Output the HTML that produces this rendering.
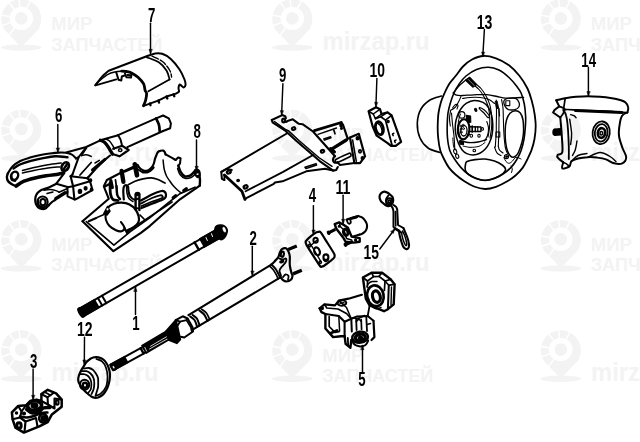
<!DOCTYPE html>
<html><head><meta charset="utf-8"><title>diagram</title>
<style>
html,body{margin:0;padding:0;background:#fff;}
body{width:640px;height:442px;overflow:hidden;font-family:"Liberation Sans",sans-serif;}
svg{display:block;position:absolute;left:0;top:0;}
svg .d path,svg .d ellipse,svg .d circle{stroke-linecap:round;stroke-linejoin:round;}
svg .d text{font-family:"Liberation Sans",sans-serif;font-weight:bold;fill:#000;stroke:none;}
svg .wm text{font-family:"Liberation Sans",sans-serif;font-weight:bold;fill:#f3f3f3;}
</style></head><body>
<svg width="640" height="442" viewBox="0 0 640 442">
<defs><filter id="sb" x="-2%" y="-2%" width="104%" height="104%"><feGaussianBlur stdDeviation="0.38"/></filter></defs>
<rect width="640" height="442" fill="#fff"/>
<g class="wm">
<g transform="translate(21.3 19.2)"><path d="M-17.3 10 A20 20 0 1 1 17.3 10 L1.5 26.5 Q0 28 -1.5 26.5 Z" fill="#f3f3f3"/><path d="M0 -0.8L-2.5 -23M0 -0.8L-14 -19M0 -0.8L-23 -4.5M0 -0.8L-22 7.5M0 -0.8L-13.5 18M0 -0.8L10.5 -21" stroke="#fff" stroke-width="1.5" fill="none"/><circle cx="0" cy="-0.8" r="11.7" fill="#fff"/><circle cx="0" cy="-0.8" r="6.3" fill="#f3f3f3"/><ellipse cx="0" cy="28.4" rx="20.3" ry="3.2" fill="#f3f3f3"/></g>
<text x="51.3" y="30.4" font-size="18" textLength="41" lengthAdjust="spacingAndGlyphs">МИР</text>
<text x="51.3" y="50.6" font-size="18" textLength="111" lengthAdjust="spacingAndGlyphs">ЗАПЧАСТЕЙ</text>
<g transform="translate(292.3 19.2)"><path d="M-17.3 10 A20 20 0 1 1 17.3 10 L1.5 26.5 Q0 28 -1.5 26.5 Z" fill="#f3f3f3"/><path d="M0 -0.8L-2.5 -23M0 -0.8L-14 -19M0 -0.8L-23 -4.5M0 -0.8L-22 7.5M0 -0.8L-13.5 18M0 -0.8L10.5 -21" stroke="#fff" stroke-width="1.5" fill="none"/><circle cx="0" cy="-0.8" r="11.7" fill="#fff"/><circle cx="0" cy="-0.8" r="6.3" fill="#f3f3f3"/><ellipse cx="0" cy="28.4" rx="20.3" ry="3.2" fill="#f3f3f3"/></g>
<text x="322.6" y="50" font-size="25" textLength="107" lengthAdjust="spacingAndGlyphs">mirzap.ru</text>
<g transform="translate(560.8 19.2)"><path d="M-17.3 10 A20 20 0 1 1 17.3 10 L1.5 26.5 Q0 28 -1.5 26.5 Z" fill="#f3f3f3"/><path d="M0 -0.8L-2.5 -23M0 -0.8L-14 -19M0 -0.8L-23 -4.5M0 -0.8L-22 7.5M0 -0.8L-13.5 18M0 -0.8L10.5 -21" stroke="#fff" stroke-width="1.5" fill="none"/><circle cx="0" cy="-0.8" r="11.7" fill="#fff"/><circle cx="0" cy="-0.8" r="6.3" fill="#f3f3f3"/><ellipse cx="0" cy="28.4" rx="20.3" ry="3.2" fill="#f3f3f3"/></g>
<text x="590.8" y="30.4" font-size="18" textLength="41" lengthAdjust="spacingAndGlyphs">МИР</text>
<text x="590.8" y="50.6" font-size="18" textLength="111" lengthAdjust="spacingAndGlyphs">ЗАПЧАСТЕЙ</text>
<g transform="translate(21.3 129.8)"><path d="M-17.3 10 A20 20 0 1 1 17.3 10 L1.5 26.5 Q0 28 -1.5 26.5 Z" fill="#f3f3f3"/><path d="M0 -0.8L-2.5 -23M0 -0.8L-14 -19M0 -0.8L-23 -4.5M0 -0.8L-22 7.5M0 -0.8L-13.5 18M0 -0.8L10.5 -21" stroke="#fff" stroke-width="1.5" fill="none"/><circle cx="0" cy="-0.8" r="11.7" fill="#fff"/><circle cx="0" cy="-0.8" r="6.3" fill="#f3f3f3"/><ellipse cx="0" cy="28.4" rx="20.3" ry="3.2" fill="#f3f3f3"/></g>
<text x="51.6" y="160.6" font-size="25" textLength="107" lengthAdjust="spacingAndGlyphs">mirzap.ru</text>
<g transform="translate(292.3 129.8)"><path d="M-17.3 10 A20 20 0 1 1 17.3 10 L1.5 26.5 Q0 28 -1.5 26.5 Z" fill="#f3f3f3"/><path d="M0 -0.8L-2.5 -23M0 -0.8L-14 -19M0 -0.8L-23 -4.5M0 -0.8L-22 7.5M0 -0.8L-13.5 18M0 -0.8L10.5 -21" stroke="#fff" stroke-width="1.5" fill="none"/><circle cx="0" cy="-0.8" r="11.7" fill="#fff"/><circle cx="0" cy="-0.8" r="6.3" fill="#f3f3f3"/><ellipse cx="0" cy="28.4" rx="20.3" ry="3.2" fill="#f3f3f3"/></g>
<text x="322.3" y="141" font-size="18" textLength="41" lengthAdjust="spacingAndGlyphs">МИР</text>
<text x="322.3" y="161.2" font-size="18" textLength="111" lengthAdjust="spacingAndGlyphs">ЗАПЧАСТЕЙ</text>
<g transform="translate(560.8 129.8)"><path d="M-17.3 10 A20 20 0 1 1 17.3 10 L1.5 26.5 Q0 28 -1.5 26.5 Z" fill="#f3f3f3"/><path d="M0 -0.8L-2.5 -23M0 -0.8L-14 -19M0 -0.8L-23 -4.5M0 -0.8L-22 7.5M0 -0.8L-13.5 18M0 -0.8L10.5 -21" stroke="#fff" stroke-width="1.5" fill="none"/><circle cx="0" cy="-0.8" r="11.7" fill="#fff"/><circle cx="0" cy="-0.8" r="6.3" fill="#f3f3f3"/><ellipse cx="0" cy="28.4" rx="20.3" ry="3.2" fill="#f3f3f3"/></g>
<text x="591.1" y="160.6" font-size="25" textLength="107" lengthAdjust="spacingAndGlyphs">mirzap.ru</text>
<g transform="translate(21.3 240)"><path d="M-17.3 10 A20 20 0 1 1 17.3 10 L1.5 26.5 Q0 28 -1.5 26.5 Z" fill="#f3f3f3"/><path d="M0 -0.8L-2.5 -23M0 -0.8L-14 -19M0 -0.8L-23 -4.5M0 -0.8L-22 7.5M0 -0.8L-13.5 18M0 -0.8L10.5 -21" stroke="#fff" stroke-width="1.5" fill="none"/><circle cx="0" cy="-0.8" r="11.7" fill="#fff"/><circle cx="0" cy="-0.8" r="6.3" fill="#f3f3f3"/><ellipse cx="0" cy="28.4" rx="20.3" ry="3.2" fill="#f3f3f3"/></g>
<text x="51.3" y="251.2" font-size="18" textLength="41" lengthAdjust="spacingAndGlyphs">МИР</text>
<text x="51.3" y="271.4" font-size="18" textLength="111" lengthAdjust="spacingAndGlyphs">ЗАПЧАСТЕЙ</text>
<g transform="translate(292.3 240)"><path d="M-17.3 10 A20 20 0 1 1 17.3 10 L1.5 26.5 Q0 28 -1.5 26.5 Z" fill="#f3f3f3"/><path d="M0 -0.8L-2.5 -23M0 -0.8L-14 -19M0 -0.8L-23 -4.5M0 -0.8L-22 7.5M0 -0.8L-13.5 18M0 -0.8L10.5 -21" stroke="#fff" stroke-width="1.5" fill="none"/><circle cx="0" cy="-0.8" r="11.7" fill="#fff"/><circle cx="0" cy="-0.8" r="6.3" fill="#f3f3f3"/><ellipse cx="0" cy="28.4" rx="20.3" ry="3.2" fill="#f3f3f3"/></g>
<text x="322.6" y="270.8" font-size="25" textLength="107" lengthAdjust="spacingAndGlyphs">mirzap.ru</text>
<g transform="translate(560.8 240)"><path d="M-17.3 10 A20 20 0 1 1 17.3 10 L1.5 26.5 Q0 28 -1.5 26.5 Z" fill="#f3f3f3"/><path d="M0 -0.8L-2.5 -23M0 -0.8L-14 -19M0 -0.8L-23 -4.5M0 -0.8L-22 7.5M0 -0.8L-13.5 18M0 -0.8L10.5 -21" stroke="#fff" stroke-width="1.5" fill="none"/><circle cx="0" cy="-0.8" r="11.7" fill="#fff"/><circle cx="0" cy="-0.8" r="6.3" fill="#f3f3f3"/><ellipse cx="0" cy="28.4" rx="20.3" ry="3.2" fill="#f3f3f3"/></g>
<text x="590.8" y="251.2" font-size="18" textLength="41" lengthAdjust="spacingAndGlyphs">МИР</text>
<text x="590.8" y="271.4" font-size="18" textLength="111" lengthAdjust="spacingAndGlyphs">ЗАПЧАСТЕЙ</text>
<g transform="translate(21.3 350.4)"><path d="M-17.3 10 A20 20 0 1 1 17.3 10 L1.5 26.5 Q0 28 -1.5 26.5 Z" fill="#f3f3f3"/><path d="M0 -0.8L-2.5 -23M0 -0.8L-14 -19M0 -0.8L-23 -4.5M0 -0.8L-22 7.5M0 -0.8L-13.5 18M0 -0.8L10.5 -21" stroke="#fff" stroke-width="1.5" fill="none"/><circle cx="0" cy="-0.8" r="11.7" fill="#fff"/><circle cx="0" cy="-0.8" r="6.3" fill="#f3f3f3"/><ellipse cx="0" cy="28.4" rx="20.3" ry="3.2" fill="#f3f3f3"/></g>
<text x="51.6" y="381.2" font-size="25" textLength="107" lengthAdjust="spacingAndGlyphs">mirzap.ru</text>
<g transform="translate(292.3 350.4)"><path d="M-17.3 10 A20 20 0 1 1 17.3 10 L1.5 26.5 Q0 28 -1.5 26.5 Z" fill="#f3f3f3"/><path d="M0 -0.8L-2.5 -23M0 -0.8L-14 -19M0 -0.8L-23 -4.5M0 -0.8L-22 7.5M0 -0.8L-13.5 18M0 -0.8L10.5 -21" stroke="#fff" stroke-width="1.5" fill="none"/><circle cx="0" cy="-0.8" r="11.7" fill="#fff"/><circle cx="0" cy="-0.8" r="6.3" fill="#f3f3f3"/><ellipse cx="0" cy="28.4" rx="20.3" ry="3.2" fill="#f3f3f3"/></g>
<text x="322.3" y="361.6" font-size="18" textLength="41" lengthAdjust="spacingAndGlyphs">МИР</text>
<text x="322.3" y="381.8" font-size="18" textLength="111" lengthAdjust="spacingAndGlyphs">ЗАПЧАСТЕЙ</text>
<g transform="translate(560.8 350.4)"><path d="M-17.3 10 A20 20 0 1 1 17.3 10 L1.5 26.5 Q0 28 -1.5 26.5 Z" fill="#f3f3f3"/><path d="M0 -0.8L-2.5 -23M0 -0.8L-14 -19M0 -0.8L-23 -4.5M0 -0.8L-22 7.5M0 -0.8L-13.5 18M0 -0.8L10.5 -21" stroke="#fff" stroke-width="1.5" fill="none"/><circle cx="0" cy="-0.8" r="11.7" fill="#fff"/><circle cx="0" cy="-0.8" r="6.3" fill="#f3f3f3"/><ellipse cx="0" cy="28.4" rx="20.3" ry="3.2" fill="#f3f3f3"/></g>
<text x="591.1" y="381.2" font-size="25" textLength="107" lengthAdjust="spacingAndGlyphs">mirzap.ru</text>
</g>
<g class="d" fill="none" stroke="#000" stroke-width="1.9" filter="url(#sb)">
<text x="148" y="21.7" font-size="20" textLength="7.35" lengthAdjust="spacingAndGlyphs">7</text>
<path d="M150.5 23.2L150.5 53.5" stroke-width="1.45"/>
<path d="M150.5 53.5L149 49.3L152 49.3Z" fill="#000" stroke-width="0.5"/>
<text x="55" y="122" font-size="20" textLength="7.35" lengthAdjust="spacingAndGlyphs">6</text>
<path d="M57.8 124.4L57.8 152.3" stroke-width="1.45"/>
<path d="M57.8 152.3L56.3 148.1L59.3 148.1Z" fill="#000" stroke-width="0.5"/>
<text x="193.5" y="138.3" font-size="20" textLength="7.35" lengthAdjust="spacingAndGlyphs">8</text>
<path d="M196.5 140L196.5 170.5" stroke-width="1.45"/>
<path d="M196.5 170.5L195 166.3L198 166.3Z" fill="#000" stroke-width="0.5"/>
<text x="279.1" y="81.7" font-size="20" textLength="7.35" lengthAdjust="spacingAndGlyphs">9</text>
<path d="M282.9 83.8L281.6 114.8" stroke-width="1.45"/>
<path d="M281.6 114.8L280.3 110.5L283.3 110.7Z" fill="#000" stroke-width="0.5"/>
<text x="369.6" y="77.3" font-size="20" textLength="15.45" lengthAdjust="spacingAndGlyphs">10</text>
<path d="M376.9 78.5L375.9 106.5" stroke-width="1.45"/>
<path d="M375.9 106.5L374.6 102.2L377.5 102.4Z" fill="#000" stroke-width="0.5"/>
<text x="476.7" y="28.5" font-size="20" textLength="15.65" lengthAdjust="spacingAndGlyphs">13</text>
<path d="M484.4 29.5L482.8 56.3" stroke-width="1.45"/>
<path d="M482.8 56.3L481.6 52L484.5 52.2Z" fill="#000" stroke-width="0.5"/>
<text x="581.3" y="67" font-size="20" textLength="14.75" lengthAdjust="spacingAndGlyphs">14</text>
<path d="M588.4 67.5L588.4 95.8" stroke-width="1.45"/>
<path d="M588.4 95.8L586.9 91.6L589.9 91.6Z" fill="#000" stroke-width="0.5"/>
<text x="308.7" y="202.3" font-size="20" textLength="7.35" lengthAdjust="spacingAndGlyphs">4</text>
<path d="M313.4 205.6L313.4 234.2" stroke-width="1.45"/>
<path d="M313.4 234.2L311.9 230L314.9 230Z" fill="#000" stroke-width="0.5"/>
<text x="335.4" y="194.2" font-size="20" textLength="14.95" lengthAdjust="spacingAndGlyphs">11</text>
<path d="M343.1 195.2L343.1 223.5" stroke-width="1.45"/>
<path d="M343.1 223.5L341.6 219.3L344.6 219.3Z" fill="#000" stroke-width="0.5"/>
<text x="363.5" y="258.8" font-size="20" textLength="15.45" lengthAdjust="spacingAndGlyphs">15</text>
<path d="M379.8 249L394.6 229.2" stroke-width="1.45"/>
<path d="M394.6 229.2L393.3 233.5L390.9 231.7Z" fill="#000" stroke-width="0.5"/>
<text x="249.4" y="244.5" font-size="20" textLength="7.35" lengthAdjust="spacingAndGlyphs">2</text>
<path d="M252.3 246.3L252.3 275.2" stroke-width="1.45"/>
<path d="M252.3 275.2L250.8 271L253.8 271Z" fill="#000" stroke-width="0.5"/>
<text x="132.3" y="330.4" font-size="20" textLength="7.35" lengthAdjust="spacingAndGlyphs">1</text>
<path d="M135.5 314.4L135.5 287.2" stroke-width="1.45"/>
<path d="M135.5 287.2L137 291.4L134 291.4Z" fill="#000" stroke-width="0.5"/>
<text x="77.1" y="335.9" font-size="20" textLength="15.55" lengthAdjust="spacingAndGlyphs">12</text>
<path d="M84.5 337.2L84.3 364.2" stroke-width="1.45"/>
<path d="M84.3 364.2L82.8 360L85.8 360Z" fill="#000" stroke-width="0.5"/>
<text x="29.9" y="367.9" font-size="20" textLength="7.35" lengthAdjust="spacingAndGlyphs">3</text>
<path d="M33.1 369L33.1 399.5" stroke-width="1.45"/>
<path d="M33.1 399.5L31.6 395.3L34.6 395.3Z" fill="#000" stroke-width="0.5"/>
<text x="358.3" y="386.3" font-size="20" textLength="7.35" lengthAdjust="spacingAndGlyphs">5</text>
<path d="M362.5 371.9L362.5 345.5" stroke-width="1.45"/>
<path d="M362.5 345.5L364 349.7L361 349.7Z" fill="#000" stroke-width="0.5"/>
<path d="M95.3 85.2C96 84.3 98 81.5 99.5 79.8C101 78.1 102.5 76.3 104 74.8C105.5 73.3 107.9 71.4 108.7 70.7L146.7 56.3C148.1 55.8 152.7 53.8 155.3 53.4C157.9 53 159.6 52.9 162.2 53.8C164.8 54.7 167.9 56.3 170.8 58.9C173.7 61.5 177.1 65.8 179.4 69.2C181.7 72.6 183.5 76.9 184.5 79.5C185.5 82.1 185.7 83.4 185.6 84.7C185.5 86 184.4 87.3 183.7 87.5C183 87.7 182 86.1 181.3 85.6C180.6 85.1 180.1 84.2 179.6 84.6C179.1 85 178.6 86.9 178.5 88.1C178.4 89.2 179.4 90.6 179 91.5C178.6 92.4 176.5 93.2 176 93.6L167.3 96.2L158.8 100.4L145 105.4L143.5 105.8" stroke-width="2"/>
<path d="M121.7 71.2C122.5 71.2 124.9 71.2 126.5 71.5C128.1 71.8 129.6 72 131.5 72.9C133.4 73.9 136 75.4 138 77.2C140 79 142.3 81.5 143.5 83.7C144.7 85.9 144.6 88.7 145.1 90.3C145.6 91.9 146.5 91.9 146.6 93.5C146.7 95.1 146.2 98 145.7 100C145.2 102 143.9 104.8 143.5 105.8" stroke-width="2.8"/>
<path d="M95.3 85.2C96.2 84.2 98.9 81.3 101 79.5C103.1 77.7 105.7 75.5 108 74.3C110.3 73 112.7 72.5 115 72C117.3 71.5 120.6 71.3 121.7 71.2" stroke-width="1.5"/>
<path d="M95.5 85.4L116.3 79.4" stroke-width="1.8"/>
<path d="M148.4 91.3L169.5 79.5" stroke-width="1.8"/>
<path d="M146.7 57.2C148.7 58.1 155.5 60.1 158.8 62.3C162.1 64.5 164.7 67.6 166.5 70.5C168.3 73.4 169.1 78 169.6 79.5" stroke-width="1.8"/>
<path d="M152 56.2C153.8 57.1 159.5 59.1 162.5 61.5C165.5 63.9 168.3 67.9 169.8 70.5C171.3 73.1 171.3 75.9 171.6 77" stroke-width="1.4" stroke-dasharray="7 2"/>
<path d="M116.3 72.5L118.5 79.8L121.3 80.6L121.8 76.5L124.5 75.5" stroke-width="2"/>
<path d="M125 73.5L126.5 77.3L131 77.6L131.5 74.5" stroke-width="2"/>
<path d="M127.5 75L130 75.3" stroke-width="2.2"/>
<path d="M150 103.5L150.5 105.2" stroke-width="2.4"/>
<path d="M158.5 100.5L159 102.5" stroke-width="2.4"/>
<path d="M166.5 96.5L167.3 98.5" stroke-width="2.4"/>
<path d="M173.5 94.3L174.3 96.2" stroke-width="2.4"/>
<path d="M118.1 135.2L156.1 118.4" stroke-width="2"/>
<path d="M127.3 147.2L163.1 131" stroke-width="2"/>
<path d="M156.1 118.4L163.1 115.5L168.8 118.4L170.9 123.3L170.2 128.2L163.1 131" stroke-width="2"/>
<path d="M156.1 118.4C156.6 119.5 158.3 122.5 158.9 124.7C159.5 126.9 159.6 130.4 159.7 131.5" stroke-width="2.7"/>
<path d="M100.3 140.3L118.1 135.2" stroke-width="2.1"/>
<path d="M100.3 140.3C101 140.6 103.1 141.1 104.5 142.3C105.9 143.5 107.5 145.9 108.5 147.4C109.5 148.9 110 150.1 110.7 151.2C111.4 152.3 112.2 153.7 112.5 154.2" stroke-width="3.3"/>
<path d="M105.5 138.8C106.2 139.2 108.2 139.8 109.5 141C110.8 142.2 112.2 144.7 113 146C113.8 147.3 114.1 148.5 114.3 149" stroke-width="1.5"/>
<path d="M118.1 135.2C118.5 135.9 119.9 138 120.5 139.5C121.1 141 121.4 143.1 121.7 144.2C122 145.2 122.2 145.5 122.3 145.8" stroke-width="2"/>
<path d="M113.2 148.8L122.3 145.8L128.7 150L119.5 156.3L112.5 154" stroke-width="2.2"/>
<ellipse cx="120.2" cy="150.2" rx="1.7" ry="1.4" stroke-width="1.5"/>
<path d="M100.3 140.3L86.2 147L66.2 152.5" stroke-width="2"/>
<path d="M110 155.5L104 160.5L96 168.5L88 177.5" stroke-width="2.1"/>
<path d="M86.2 147.3L78.8 156.9" stroke-width="1.8"/>
<path d="M86.5 148L81.5 155.6" stroke-width="1.5"/>
<path d="M81.5 155.6C82.2 155.5 84.4 154.7 86 154.8C87.6 154.9 90.3 156.1 91.2 156.4" stroke-width="1.5"/>
<path d="M91.2 162.5L80 175" stroke-width="1.8"/>
<path d="M92.5 170L105 159.4" stroke-width="3"/>
<path d="M95 163L99.4 160.4" stroke-width="1.5"/>
<path d="M7.8 173.5C8.6 172.3 10.4 168.6 12.5 166.5C14.6 164.4 17.4 162.5 20.3 161C23.2 159.5 26.6 158.6 30 157.6C33.4 156.6 37.3 155.7 40.6 155C43.9 154.3 47 153.9 50 153.5C53 153.1 56.2 152.7 58.9 152.6C61.6 152.5 63.8 152.5 66 152.8C68.2 153.1 70.3 153.7 72 154.6C73.7 155.5 75.3 157.8 76 158.5" stroke-width="2.1"/>
<path d="M7.8 173.5C7.7 174.1 6.9 175.8 6.9 177C6.9 178.2 7.2 179.8 8 181C8.8 182.2 10.2 183.1 11.5 184C12.8 184.9 15.2 185.8 16 186.2" stroke-width="2.4"/>
<path d="M16.2 186C17.5 185.2 21 182.5 24 181.2C27 179.9 30.3 179.1 34 178.2C37.7 177.3 42 176.5 46 175.8C50 175.1 55.2 174.6 58 174.2C60.8 173.8 61.8 173.5 62.5 173.4" stroke-width="3.6"/>
<path d="M13.5 168.5C14.6 167.8 17.2 165.7 20 164.5C22.8 163.3 26.3 162.2 30 161.2C33.7 160.2 37.8 159.2 42 158.4C46.2 157.6 50.8 156.5 55 156.3C59.2 156.1 65.4 157.1 67.5 157.3" stroke-width="2.4"/>
<path d="M22.5 170.6C24.4 170.1 29.8 168.6 34 167.6C38.2 166.6 43.5 165.6 48 164.8C52.5 164 59 163.3 61.2 163" stroke-width="1.5"/>
<path d="M22.5 173C24.4 172.6 29.8 171.2 34 170.4C38.2 169.6 43.7 168.6 48 168C52.3 167.4 58 167.1 60 166.9" stroke-width="1.5"/>
<ellipse cx="14.6" cy="175.8" rx="3.4" ry="4.3" stroke-width="2.4" transform="rotate(25 14.6 175.8)"/>
<path d="M11.2 176C11.3 176.6 11.4 178.8 12 179.5C12.6 180.2 14.5 180.3 15 180.5" stroke-width="2.7"/>
<ellipse cx="65.2" cy="166.6" rx="3.3" ry="4.6" stroke-width="2.7" transform="rotate(30 65.2 166.6)"/>
<path d="M63.5 169.5L67.5 163.5" stroke-width="2.4"/>
<path d="M76 158.5L78.8 156.9L72.5 174.4" stroke-width="2"/>
<path d="M72.5 174.4L70.6 176.2" stroke-width="2"/>
<path d="M62.5 173.4L64.5 172.8L56.3 183.7" stroke-width="2.1"/>
<path d="M70.6 176.2L87.5 178.2L90 181.3L92.5 190L75.6 199.4L74.4 199.4L73.1 186.3L90 181.3" stroke-width="2.1"/>
<path d="M70.6 176.2L73.1 186.3" stroke-width="2.1"/>
<path d="M73.1 186.3L67.5 187.3L67.5 196.3L74.4 199.4" stroke-width="2"/>
<path d="M87.5 178.2L88 177.5" stroke-width="2.4"/>
<ellipse cx="80" cy="191.4" rx="1.4" ry="1.7" stroke-width="1.8" fill="#000"/>
<ellipse cx="85.6" cy="188.3" rx="1.2" ry="1.5" stroke-width="1.8" fill="#000"/>
<ellipse cx="90.3" cy="180.3" rx="1.2" ry="1.2" stroke-width="1.8" fill="#000"/>
<ellipse cx="91.5" cy="189.5" rx="0.9" ry="1.2" stroke-width="1.8" fill="#000"/>
<path d="M56.3 183.7C55 184.3 51.3 186.4 48.8 187.5C46.3 188.6 43.2 189.1 41.3 190C39.4 190.9 38.5 191.8 37.5 193C36.5 194.2 35.8 195.4 35.5 197C35.2 198.6 35.2 201 35.5 202.5C35.8 204 36.4 205.1 37 206C37.6 206.9 38.1 207.7 39.4 208.2C40.7 208.7 43.4 209.3 45 208.8C46.6 208.3 48.2 205.8 48.8 205.2" stroke-width="2.2"/>
<path d="M48.8 205.2C49.3 204.7 51 202.9 52 202C53 201.1 53.5 201 55 200C56.5 199 58.9 197.3 61 196C63.1 194.7 66.4 192.7 67.5 192" stroke-width="2.2"/>
<path d="M56.3 183.7L67.5 187" stroke-width="2"/>
<path d="M44 190.2C45 190.1 48 189.4 50 189.5C52 189.6 54.5 190.2 56 190.6C57.5 191 58.5 191.9 59 192.2" stroke-width="1.5"/>
<path d="M59 192.2L67.5 188.5" stroke-width="1.5"/>
<path d="M55.5 198.5L65 192.3" stroke-width="2.7"/>
<path d="M47 193.5L53 192" stroke-width="1.4"/>
<ellipse cx="42.6" cy="201.9" rx="5" ry="5.4" stroke-width="2.2"/>
<ellipse cx="42.9" cy="202.2" rx="2.6" ry="3.1" stroke-width="2"/>
<path d="M37.8 200C37.9 200.8 37.8 203.8 38.5 205C39.2 206.2 41.4 206.9 42 207.3" stroke-width="2.4"/>
<path d="M82.5 221.2L113.4 251.2L140.9 232.8L150 225.8L180 199.3L199.8 185.6" stroke-width="2.2"/>
<path d="M86.3 221.6L113.9 245.2L130 231.8L150 217.6L167.5 203.3L180 193.6L195 187.2" stroke-width="1.7"/>
<path d="M199.8 185.6L200 180L199.4 175L197.5 170.6" stroke-width="2.4"/>
<path d="M197.5 170.6C197 170.8 195.7 171.1 194.4 171.9C193.2 172.7 191.6 174.9 190 175.6C188.4 176.3 186.6 176.9 185 176.3C183.4 175.7 181.7 173.7 180.6 171.9C179.5 170.1 178.7 166.7 178.3 165.6" stroke-width="2.5"/>
<path d="M196 173.5C195.2 174.2 192.8 176.7 191 177.5C189.2 178.3 186.8 178.8 185 178.3C183.2 177.8 181.2 176.1 180 174.5C178.8 172.9 178 169.5 177.6 168.5" stroke-width="1.5"/>
<path d="M178.3 165.6L180 163.6L180.6 158.3L178.1 157.5L175.6 160" stroke-width="2"/>
<path d="M175.6 160L172.5 158.1L165.6 154.4" stroke-width="2.1"/>
<path d="M165.6 154.4C165.4 154 165 152.4 164.6 151.8C164.2 151.2 163.8 150.8 163.1 150.6C162.4 150.4 161.3 150.6 160.5 150.8C159.7 151 158.8 151.2 158.1 151.9C157.4 152.6 157 153.8 156.5 155C156 156.2 155.4 157.5 155 158.8C154.6 160.1 154.4 161.8 154 163C153.6 164.2 153.2 165.3 152.5 166.3C151.8 167.3 150.8 168.3 150 169C149.2 169.7 148.4 170.3 147.5 170.6C146.6 170.9 145.3 171 144.3 170.8C143.3 170.6 142.2 170 141.3 169.4C140.4 168.8 139.6 167.9 139 167.2C138.4 166.5 137.8 165.4 137.5 165" stroke-width="2.2"/>
<path d="M153.5 167.5C153 168 151.6 169.7 150.5 170.5C149.4 171.3 148.2 172 147 172.3C145.8 172.6 143.7 172.2 143 172.2" stroke-width="2.4"/>
<path d="M137.5 165L123.8 171.3L106.9 180L103.8 186.3L108.8 198.8L82.5 221.2" stroke-width="2.1"/>
<path d="M163.1 160C163.2 160.8 163.4 163.3 163.6 165C163.8 166.7 163.9 168.2 164.4 170C164.9 171.8 165.6 174.1 166.5 176C167.4 177.9 168.8 179.6 170 181.3C171.2 183 172.2 184.6 173.5 186C174.8 187.4 176.2 188.8 177.5 190C178.8 191.2 180.7 192.6 181.3 193.1" stroke-width="1.5"/>
<path d="M194.5 170.5C194.8 169.4 196.2 169.1 197 169.2C197.8 169.3 199 170 199.5 171C200 172 200.2 173.9 200 175C199.8 176.1 198.8 177.4 198 177.5C197.2 177.6 196.1 176.7 195.5 175.5C194.9 174.3 194.2 171.6 194.5 170.5Z" stroke-width="1.5" fill="#000"/>
<ellipse cx="197.6" cy="174.2" rx="1.2" ry="0.9" stroke-width="0.2" fill="#fff"/>
<path d="M183.8 190.6L186.3 188.8" stroke-width="3.3"/>
<path d="M173.2 197.8L175.7 195.8" stroke-width="3.3"/>
<path d="M123.8 199.5C123.7 198.1 123.3 193.2 123.3 191C123.3 188.8 123.5 187.5 124 186.5C124.5 185.5 125.3 185 126 185C126.7 185 127.6 185.5 128 186.5C128.4 187.5 128.2 189.4 128.5 191C128.8 192.6 129.1 194.6 130 196C130.9 197.4 132.6 199.1 134 199.5C135.4 199.9 137.8 198.7 138.5 198.5" stroke-width="2.2"/>
<path d="M126.5 186C126.6 187.2 126.6 190.9 127 193C127.4 195.1 128 197.1 129 198.5C130 199.9 132.3 201 133 201.5" stroke-width="1.5"/>
<path d="M128.5 184.5C129.6 184 132.6 182.2 135 181.3C137.4 180.4 140.3 179.5 143 178.9C145.7 178.3 148.8 177.7 151.3 177.8C153.8 177.9 155.7 178.6 158 179.5C160.3 180.4 163.8 182.5 165 183.1" stroke-width="1.7"/>
<path d="M135.6 209.5L135.6 194.5" stroke-width="2.4"/>
<path d="M139.4 210L139.4 194.5" stroke-width="2.4"/>
<ellipse cx="137.5" cy="194" rx="1.9" ry="1.3" stroke-width="1.8" fill="#000"/>
<path d="M135.6 208L139.4 208.6" stroke-width="1.8"/>
<path d="M141 200.5C142.8 199.5 148.8 196.1 152 194.5C155.2 192.9 158.4 191.7 160.5 191.2C162.6 190.7 163.4 190.9 164.3 191.5C165.2 192.1 165.9 193.4 166 194.5C166.1 195.6 165.9 197 165 198C164.1 199 163 199.4 160.5 200.5C158 201.6 153.2 203.2 150 204.5C146.8 205.8 142.9 207.4 141.5 208" stroke-width="2.2"/>
<path d="M141 203.5C142.8 202.6 148.8 199.4 152 198C155.2 196.6 158.2 195.6 160 195.3C161.8 195 162.2 195.7 162.5 196.2C162.8 196.7 163.4 197.3 161.5 198.3C159.6 199.3 154.3 200.7 151 202C147.7 203.3 143.1 205.3 141.5 206" stroke-width="1.8"/>
<path d="M105.5 213.5C105.9 212.5 106.6 209.1 108 207.5C109.4 205.9 111.8 204.6 114 203.8C116.2 203 118.9 202.5 121.5 202.6C124.1 202.7 127.2 203.3 129.5 204.5C131.8 205.7 134 207.5 135.5 209.5C137 211.5 138.2 214.3 138.7 216.5C139.2 218.7 139.1 220.8 138.3 222.5C137.5 224.2 135.9 225.7 134 227C132.1 228.3 128.2 229.9 127 230.5" stroke-width="2.2"/>
<path d="M105.5 213.5C105.6 214.6 105.3 217.9 106 220C106.7 222.1 107.8 224.3 109.5 226C111.2 227.7 114 229.4 116 230.3C118 231.2 120.1 231.6 121.5 231.2C122.9 230.8 124.6 229.5 124.5 228C124.4 226.5 121.6 223 121 222" stroke-width="2.1"/>
<path d="M124.5 228L127 233L130 229.5" stroke-width="2"/>
<path d="M140 215L145 220L172 202" stroke-width="1.7"/>
<path d="M130 229.5L145 220" stroke-width="1.5"/>
<path d="M103.8 213.5L107.5 206.5L110 211L107 215L103.8 213.5" stroke-width="1.5" fill="#000"/>
<ellipse cx="107.6" cy="209.3" rx="1.1" ry="1.3" stroke-width="0.2" fill="#fff"/>
<path d="M88.8 221.2L96.2 218.1" stroke-width="2.2"/>
<path d="M97 217.5L104 214.5" stroke-width="1.4"/>
<path d="M121.6 170.8L123.4 181.8" stroke-width="4.3"/>
<path d="M134.8 164.3L137 175.3" stroke-width="4.7"/>
<path d="M110.8 180.6L112.3 187.5" stroke-width="3.3"/>
<path d="M115.5 180L116.8 189.5" stroke-width="1.8"/>
<path d="M110 183C110.1 184.8 110 191.2 110.5 194C111 196.8 111.8 198.4 113 199.5C114.2 200.6 117.2 200.3 118 200.5" stroke-width="2.8"/>
<path d="M116.5 186C116.6 187.5 116.7 192.8 117.3 195C117.9 197.2 119.5 198.3 120 199" stroke-width="2.4"/>
<path d="M124.5 172L134 168" stroke-width="1.5"/>
<path d="M138 169.5L142 172" stroke-width="1.8"/>
<path d="M104.8 186.5L108.5 184.5" stroke-width="2.4"/>
<path d="M271.8 120L282.2 115.1L285.2 116.2L285.9 118.2" stroke-width="2.1"/>
<ellipse cx="283.7" cy="120.5" rx="1.5" ry="1.8" stroke-width="2.2"/>
<path d="M286 122L287.5 121.1L292.8 119.3L298.8 123.8L302.5 124.2L313 131.5L335 156.2" stroke-width="2.1"/>
<path d="M271.8 120L272.5 122.3L285.2 130.5L287.5 132.8L296.5 141L320 161.3L333.1 170.6L336.2 170L337.8 167" stroke-width="2.1"/>
<path d="M274.4 121.5L286 129.8L288.3 130.6L299.5 141L318.8 157.5L332 166.3" stroke-width="1.5"/>
<ellipse cx="293.6" cy="128.6" rx="1.7" ry="1.3" stroke-width="2.1" transform="rotate(-20 293.6 128.6)"/>
<ellipse cx="322.5" cy="151.3" rx="1.7" ry="1.3" stroke-width="2.1" transform="rotate(-20 322.5 151.3)"/>
<path d="M335 156.2C334.7 156.5 333.6 157.5 333.3 158.3C333 159.1 332.9 160.3 333.2 161C333.4 161.7 334.1 162.4 334.8 162.6C335.5 162.8 337.1 162.4 337.5 162.4" stroke-width="2.2"/>
<path d="M336.3 159.2C337.7 158.5 347.9 153.8 349.3 153.3C350.8 152.8 350.6 153.9 350.8 154.2C351 154.4 351 155.5 350.9 155.8C350.8 156.1 351.2 156.1 349.8 156.8C348.4 157.5 338.6 162.1 337.2 162.6C335.8 163.1 335.8 162.2 335.6 162C335.4 161.8 335.1 160.8 335.2 160.5C335.3 160.2 334.9 159.9 336.3 159.2Z" stroke-width="1.7"/>
<path d="M337.5 162.4L340 165L354.4 163.1" stroke-width="2"/>
<path d="M286.8 133.5L221.3 171.9L221.9 178.8L224.4 180" stroke-width="2"/>
<path d="M221.3 171.9L226.9 168.8L231.9 170" stroke-width="1.8"/>
<path d="M224.4 175L241.9 191.3L245 199.4" stroke-width="2.8"/>
<path d="M224.4 175L224.4 180" stroke-width="1.8"/>
<path d="M245 199.4L246.3 198.1L273.8 183.8L275 182.5L282.5 181.3L306.3 171.3L325 168.8L333.1 170.6" stroke-width="2"/>
<path d="M245.6 191.3L283.1 171.9L313.1 155" stroke-width="1.8"/>
<ellipse cx="228.8" cy="172" rx="2" ry="1.5" stroke-width="2.2" transform="rotate(-25 228.8 172)"/>
<ellipse cx="238.1" cy="180.6" rx="1.1" ry="0.9" stroke-width="1.7"/>
<ellipse cx="245.6" cy="186.9" rx="2" ry="1.5" stroke-width="2.2" transform="rotate(-25 245.6 186.9)"/>
<path d="M305 167.2L316 163.6L316.6 165L306 168.6L305 167.2" stroke-width="1.5"/>
<path d="M314.4 130.6L341.2 122.5" stroke-width="2.7"/>
<path d="M341.2 122.5L343.1 125L347.5 138.1" stroke-width="2.2"/>
<path d="M318 134.3L336.5 128" stroke-width="1.4"/>
<ellipse cx="341.2" cy="125.3" rx="1.1" ry="1.3" stroke-width="1.8" fill="#000"/>
<ellipse cx="341.5" cy="128.3" rx="0.8" ry="0.9" stroke-width="1.5" fill="#000"/>
<path d="M323.8 138.8L330.6 136.7L331 137.8L324.5 140.2L323.8 138.8" stroke-width="1.4"/>
<path d="M333.8 130L335 133.8" stroke-width="1.7"/>
<path d="M331.3 149.4L346.3 140" stroke-width="3.4"/>
<path d="M330.5 148.5L334.5 152" stroke-width="3"/>
<path d="M350 137.5L358.8 133.8L365 156.3L360 163.1L354.4 163.1L350 137.5" stroke-width="2.2"/>
<path d="M352.6 140L356.3 161.3" stroke-width="1.5"/>
<path d="M350 137.5L346.3 140" stroke-width="2"/>
<ellipse cx="357.5" cy="138.2" rx="1.1" ry="1.3" stroke-width="1.8" fill="#000"/>
<ellipse cx="360" cy="151.3" rx="1.2" ry="1.5" stroke-width="1.8"/>
<ellipse cx="362.5" cy="158.2" rx="1.1" ry="1.2" stroke-width="1.8" fill="#000"/>
<path d="M368.6 111.3L376 107.2L380.1 109.2L381.5 114L387.6 112.4L391.6 115.4L401.1 141.8L395.7 145.9L391 145.9L387.6 143.2L376.7 135.7L372.6 126.2Z" stroke-width="2.2"/>
<path d="M368.6 111.3L373.3 114L380.1 109.2" stroke-width="1.5"/>
<path d="M373.3 114L375.4 118.7L381.5 114" stroke-width="1.5"/>
<path d="M375.4 118.7L380.8 116.7L387.6 112.4" stroke-width="1.5"/>
<path d="M380.8 116.7L385.5 120.1L391.6 115.4" stroke-width="1.7"/>
<path d="M385.5 120.1L392.2 145.9" stroke-width="1.8"/>
<ellipse cx="379.4" cy="128.2" rx="3.8" ry="6.6" stroke-width="2.8" transform="rotate(-14 379.4 128.2)"/>
<path d="M377.2 123C377.7 123.4 379.4 124.2 380.2 125.5C381 126.8 381.8 129.1 382 130.5C382.2 131.9 381.6 133.4 381.5 134" stroke-width="1.4"/>
<ellipse cx="388.2" cy="121.6" rx="0.9" ry="1" stroke-width="1.5"/>
<path d="M393.8 133.3C393.6 133.5 392.6 133.8 392.5 134.2C392.4 134.6 393.1 135.4 393.2 135.6" stroke-width="1.5"/>
<path d="M396 140C395.8 140.2 394.6 140.6 394.5 141C394.4 141.4 395.2 142.3 395.3 142.6" stroke-width="1.5"/>
<path d="M441.5 96C439.6 96.7 433.4 97.8 430 100C426.6 102.2 423.1 105.2 421 109C418.9 112.8 417.5 118.2 417.3 123C417.1 127.8 418.2 133.8 420 138C421.8 142.2 424.7 145.6 428 148C431.3 150.4 438 151.8 440 152.5" stroke-width="1.6"/>
<path d="M483.3 56C487.3 55.8 491.7 56.8 496 58.3C500.3 59.8 505.1 62.4 509 65.3C512.9 68.2 516.3 71.9 519.4 75.8C522.5 79.7 525.4 84.3 527.5 88.5C529.6 92.7 530.6 96.8 531.8 101C533 105.2 534 109.8 534.6 114C535.2 118.2 535.7 121.8 535.7 126C535.7 130.2 535.2 134.9 534.5 139C533.8 143.1 532.6 146.9 531.4 150.4C530.1 153.9 528.4 157.1 527 160C525.6 162.9 524.7 165 522.8 167.6C520.9 170.2 518.1 173.2 515.5 175.5C512.9 177.8 510.6 179.4 507.3 181.3C504.1 183.2 499.7 185.5 496 186.8C492.3 188.1 488.7 189.1 485 189C481.3 188.9 477.4 187.8 474 186.5C470.6 185.2 467.5 183.3 464.4 181.3C461.3 179.3 458.1 176.8 455.5 174.5C452.9 172.2 450.8 170.2 448.9 167.6C447 165 445.4 161.9 444 159C442.6 156.1 441.3 153.9 440.3 150.4C439.3 146.9 438.6 142.1 438.2 138C437.8 133.9 437.6 130.2 437.7 126C437.8 121.8 437.9 117 438.5 113C439.1 109 440 105.3 441 102C442 98.7 443.2 96.1 444.6 93C446 89.9 447.6 86.4 449.5 83.5C451.4 80.6 453.6 78.6 455.8 75.8C458.1 73 460.3 69.2 463 66.5C465.7 63.8 468.6 61.2 472 59.5C475.4 57.8 479.3 56.2 483.3 56Z" stroke-width="1.8"/>
<path d="M488.4 67.2C492.1 67.3 495.6 68.3 499 70C502.4 71.7 506.1 74.8 509 77.5C511.9 80.2 514.5 83.4 516.5 86C518.5 88.6 519.8 90 521.1 93C522.4 96 523.5 100.2 524.3 104C525 107.8 525.4 112.3 525.6 116C525.8 119.7 525.7 122.2 525.4 126C525.1 129.8 524.7 134.9 524 139C523.3 143.1 522.4 146.9 521.1 150.4C519.9 153.9 518.2 157.1 516.5 160C514.8 162.9 513 165.3 510.8 167.6C508.6 169.9 505.7 172.2 503 174C500.3 175.8 497.5 177.4 494.5 178.5C491.5 179.6 488.1 180.5 485 180.5C481.9 180.5 478.8 179.6 476 178.5C473.2 177.4 470.5 175.8 468 174C465.5 172.2 463.2 170.1 461 167.6C458.8 165.1 456.4 161.9 454.5 159C452.6 156.1 451 153.9 449.8 150.4C448.6 146.9 447.9 142.1 447.5 138C447.1 133.9 447.1 130.2 447.2 126C447.3 121.8 447.4 116.9 448 113C448.6 109.1 449.5 105.8 450.5 102.5C451.5 99.2 452.5 96.2 454 93C455.5 89.8 457.5 86.3 459.5 83.5C461.5 80.7 463.2 78.3 466 76C468.8 73.7 472.8 71 476.5 69.5C480.2 68 484.6 67.1 488.4 67.2Z" stroke-width="1.6"/>
<path d="M453.2 93C453.8 93.4 454.9 94.8 456.5 95.2C458.1 95.6 459.8 95.6 462.7 95.5C465.6 95.4 470 94.9 474 94.8C478 94.7 482.9 94.4 486.7 94.7C490.5 95 493.9 95.9 497 96.5C500.1 97.1 502.8 97.8 505.6 98.1C508.4 98.3 511 98.1 514 98C517 97.9 522.1 97.4 523.7 97.3" stroke-width="1.3"/>
<path d="M453.2 93C454.1 91.9 456.7 88.4 458.5 86.5C460.3 84.6 462.2 83 464 81.5C465.8 80 468.6 78.2 469.5 77.5" stroke-width="1.2"/>
<path d="M461 96.4C460.7 97.2 459.9 99.3 459 101C458.1 102.7 456.9 105.3 455.8 106.7C454.7 108.1 453.4 108.7 452.5 109.3C451.6 109.9 450.9 110 450.6 110.2" stroke-width="1.1"/>
<path d="M450.6 110.5C450.4 111.8 449.6 115.4 449.5 118C449.4 120.6 450.2 124.7 450.3 126" stroke-width="1.1"/>
<path d="M462.5 98.5C463.8 98.3 467.1 97.7 470 97.5C472.9 97.3 476.8 97.2 480 97.5C483.2 97.8 486.6 98.5 489 99.5C491.4 100.5 493.6 102.8 494.5 103.5" stroke-width="1.1"/>
<path d="M451.5 113C451.7 114.8 452.1 120.2 452.5 124C452.9 127.8 453.6 131.8 454 136C454.4 140.2 454.7 147.2 454.8 149.5" stroke-width="1.1"/>
<path d="M452.5 108C453 107.4 454.6 104.9 455.5 104.5C456.4 104.1 457.8 104.8 458 105.5C458.2 106.2 457.2 108.4 457 109" stroke-width="1.1"/>
<path d="M474.3 100.4C477.1 100.3 480.6 101.2 483 102.4C485.4 103.6 487.1 105.3 488.5 107.5C489.9 109.7 490.9 112.6 491.6 115.5C492.3 118.4 492.7 121.8 492.8 125C492.9 128.2 492.6 132 492 135C491.4 138 490.4 140.7 489.3 143C488.2 145.3 486.9 147.3 485.3 149C483.7 150.7 481.9 152.2 479.8 153.2C477.8 154.2 475.2 154.9 473 155C470.8 155.1 468.6 154.4 466.8 153.6C465 152.8 463.6 151.8 462.2 150C460.8 148.2 459.4 145.8 458.3 143C457.2 140.2 456.1 136.4 455.6 133.2C455.1 130 455.1 126.9 455.4 124C455.7 121.1 456.4 118.5 457.3 116C458.2 113.5 459.3 111.1 460.8 109C462.3 106.9 464.2 104.6 466.5 103.2C468.8 101.8 471.6 100.5 474.3 100.4Z" stroke-width="1.5"/>
<path d="M460.5 114C460.1 115.3 458.6 119.2 458.3 122C458 124.8 458.4 128.2 458.8 131C459.2 133.8 460.6 137.7 461 139" stroke-width="1"/>
<ellipse cx="463.6" cy="129.3" rx="5.8" ry="10" stroke-width="2.1" transform="rotate(4 463.6 129.3)"/>
<ellipse cx="463.9" cy="130.8" rx="3.1" ry="5.2" stroke-width="1.3" transform="rotate(4 463.9 130.8)"/>
<ellipse cx="461.8" cy="114.9" rx="3.1" ry="3.2" stroke-width="1.2"/>
<path d="M466.3 115.4L470.6 116L470.8 122.3L468 122.5L466.5 119.5Z" stroke-width="1.1" fill="#000"/>
<ellipse cx="461" cy="126" rx="0.9" ry="1" stroke-width="0.9"/>
<ellipse cx="463.2" cy="125.2" rx="0.9" ry="1" stroke-width="0.9"/>
<ellipse cx="461" cy="129" rx="0.9" ry="1" stroke-width="0.9"/>
<ellipse cx="463.6" cy="128.6" rx="0.9" ry="1" stroke-width="0.9"/>
<ellipse cx="461.2" cy="132.2" rx="0.9" ry="1" stroke-width="0.9"/>
<path d="M469.3 126.7L480.8 127" stroke-width="1.4"/>
<path d="M469.3 131.5L480.8 131.5" stroke-width="1.4"/>
<path d="M472.2 126.2L472.2 132" stroke-width="1.7"/>
<path d="M475.3 126.7L475.3 131.5" stroke-width="1.4"/>
<path d="M477.8 126.7L477.8 131.5" stroke-width="1.2"/>
<path d="M480.8 127L480.8 131.5" stroke-width="1.1"/>
<ellipse cx="482.3" cy="128.9" rx="1.2" ry="1.3" stroke-width="1.1"/>
<ellipse cx="471.3" cy="135.7" rx="1.3" ry="1.5" stroke-width="1.1"/>
<ellipse cx="479" cy="135.7" rx="1.2" ry="1.4" stroke-width="1.1"/>
<ellipse cx="468.5" cy="134.5" rx="1" ry="1.1" stroke-width="1"/>
<ellipse cx="476" cy="110.5" rx="0.9" ry="0.9" stroke-width="1.1" fill="#000"/>
<path d="M459.5 141L463.5 141.2L463.5 144.5L460 144.3Z" stroke-width="1.1" fill="#000"/>
<path d="M460 140.5C461.3 140.8 465 142.2 468 142.5C471 142.8 474.9 142.5 478 142C481.1 141.5 485.1 139.9 486.5 139.5" stroke-width="1.4"/>
<path d="M463 146C464.2 146.2 467.3 147.2 470 147.3C472.7 147.4 476.5 147.1 479 146.3C481.5 145.5 484 143.1 485 142.5" stroke-width="1"/>
<ellipse cx="474.3" cy="150.5" rx="1.3" ry="1.3" stroke-width="1.1"/>
<path d="M486.8 121.5C487.1 122.6 488.4 125.7 488.5 128C488.6 130.3 488.2 133.3 487.5 135.5C486.8 137.7 485 140.1 484.5 141" stroke-width="1.1"/>
<path d="M479.8 107.6C480.6 107.7 482.6 108.7 484 109.8C485.4 110.9 487.1 112.8 488 114C488.9 115.2 489.6 116.7 489.5 117.2C489.4 117.7 488.5 118 487.5 117.2C486.5 116.4 484.8 113.9 483.5 112.5C482.2 111.1 480.1 109.8 479.5 109C478.9 108.2 479.1 107.5 479.8 107.6Z" stroke-width="1.2"/>
<ellipse cx="475.5" cy="109.3" rx="1" ry="1" stroke-width="1.1"/>
<path d="M474.5 85.5C475.2 86.2 477.5 87.8 479 89.5C480.5 91.2 482.1 93.4 483.3 95.5C484.6 97.6 485.6 99.8 486.5 102C487.4 104.2 488.1 105.7 488.6 108.5C489.2 111.3 489.7 115.5 489.8 118.8C489.9 122 489.8 125 489.5 128C489.2 131 488.2 135.5 488 137" stroke-width="1.1"/>
<path d="M476.3 84.3C477.1 85 479.5 86.8 481 88.5C482.5 90.2 484 92.4 485.2 94.5C486.4 96.6 487.5 98.8 488.4 101C489.3 103.2 489.9 104.5 490.5 107.5C491.1 110.5 491.6 115.3 491.8 118.8C492 122.3 491.8 125.3 491.5 128.5C491.2 131.7 490.2 136.4 490 138" stroke-width="1.1"/>
<path d="M465.4 80.2L469.8 77.3L476.6 84.5L472.8 87.2Z" stroke-width="1.1" fill="#000"/>
<path d="M468.3 79.5L474.2 85.6" stroke-width="0.5" stroke="#fff"/>
<path d="M495.3 101.6L497 100.8L498.8 108.4L497 108.6Z" stroke-width="0.9" fill="#000"/>
<path d="M499 108.5L499.6 116" stroke-width="1.1"/>
<path d="M496.2 100C496.2 102 496.5 108 496.5 112C496.5 116 496.4 120.5 496.3 124C496.2 127.5 496.4 129.4 496.2 133.2C496 137 495.4 144.7 495.3 147" stroke-width="1.1"/>
<path d="M498.8 109C498.8 110.8 499 116 499 120C499 124 498.9 128.7 498.8 133C498.7 137.3 498.4 143.8 498.3 146" stroke-width="1.1"/>
<path d="M496 132L499.8 132L499.8 137L496 137Z" stroke-width="1.1"/>
<path d="M494.5 147C494.8 147.7 495.5 149.9 496 151C496.5 152.1 496.7 152.8 497.5 153.5C498.3 154.2 500.4 155.2 501 155.5" stroke-width="1.1"/>
<path d="M498.3 146C498.5 146.7 498.7 148.8 499.5 150C500.3 151.2 502.4 152.5 503 153" stroke-width="1.1"/>
<path d="M501.5 99.5C501.8 100.9 502.7 104.6 503 108C503.3 111.4 503.2 115.8 503.4 120C503.5 124.2 503.7 129.5 503.9 133.2C504.1 136.9 504.3 139.4 504.6 142C504.9 144.6 505.1 146.8 505.6 148.7C506.1 150.6 507.2 152.7 507.5 153.5" stroke-width="1.1"/>
<path d="M504.2 100.3C504.9 99 507.5 98.5 509.5 98.2C511.5 97.9 514.4 97.9 516 98.6C517.6 99.3 518.5 101.1 519 102.5C519.5 103.9 519.5 105.8 518.8 107C518.1 108.2 516.7 109.2 515 109.6C513.3 110 510.2 110.1 508.5 109.6C506.8 109 505.7 107.8 505 106.3C504.3 104.8 503.4 101.6 504.2 100.3Z" stroke-width="1.3"/>
<path d="M505.8 100.8L509.8 100.8L509.8 105.6L505.8 105.6Z" stroke-width="1.1"/>
<path d="M515.5 110.8C517.2 110.8 519 111.5 520.3 113C521.5 114.5 522.5 117.2 523 120C523.5 122.8 523.6 127 523.6 130C523.6 133.1 523.3 135.5 522.8 138.3C522.3 141.1 521.4 144.4 520.5 147C519.6 149.6 518.8 152.1 517.7 153.8C516.6 155.5 515.1 156.6 514 157C512.9 157.4 511.9 157.4 510.8 156.4C509.7 155.4 508.4 153.4 507.5 151C506.6 148.6 506 145.5 505.6 142C505.2 138.5 505.1 133.7 505.2 130C505.3 126.3 505.7 122.8 506.5 120C507.3 117.2 508.5 114.8 510 113.3C511.5 111.8 513.8 110.8 515.5 110.8Z" stroke-width="1.5"/>
<path d="M467 161.5C468.6 160.7 472 160 475 159.6C478 159.2 481.8 158.8 485 159C488.2 159.2 491.6 160 494.5 161C497.4 162 500.3 163.6 502.2 165C504.1 166.4 505.4 168 505.6 169.3C505.8 170.6 504.6 171.8 503.5 173C502.4 174.2 500.7 175.2 498.8 176.2C496.9 177.2 494.3 178.3 492 179C489.7 179.7 487.3 180.3 485 180.3C482.7 180.3 480.3 179.7 478 179C475.7 178.3 473.1 177.2 471.3 176.2C469.5 175.2 468 174.2 467 173C466 171.8 465.4 170.7 465.2 169.3C464.9 167.9 465.2 165.8 465.5 164.5C465.8 163.2 465.4 162.3 467 161.5Z" stroke-width="1.6"/>
<ellipse cx="506.5" cy="156.6" rx="2" ry="2" stroke-width="1.2"/>
<ellipse cx="506.5" cy="156.6" rx="0.8" ry="0.8" stroke-width="0.9" fill="#000"/>
<path d="M503.9 157.5C504.2 158.2 505.1 160.5 506 161.5C506.9 162.5 508.1 163.4 509.2 163.3C510.3 163.2 511.4 162 512.5 161C513.6 160 514.6 157.6 516 157.3C517.4 157 520.2 158.7 521 159" stroke-width="1"/>
<path d="M511 166C511.2 166.5 512.2 167.9 512.3 169C512.4 170.1 511.6 171.9 511.5 172.5" stroke-width="1"/>
<ellipse cx="455.2" cy="151.5" rx="1.5" ry="2.4" stroke-width="1.1" transform="rotate(-15 455.2 151.5)"/>
<ellipse cx="457.2" cy="156.2" rx="1.5" ry="2.2" stroke-width="1.1" transform="rotate(-20 457.2 156.2)"/>
<path d="M452.8 138C452.9 139.3 453.1 144 453.5 146C453.9 148 454.8 149.3 455 150" stroke-width="1"/>
<path d="M556.2 100.3C557.7 100 562 98.9 565.3 98.3C568.6 97.7 572.3 97.1 576 96.8C579.7 96.5 583.7 96.2 587.7 96.2C591.7 96.2 596 96.5 600 96.8C604 97.1 608.7 97.7 612 98.2C615.3 98.7 617.8 99.3 620 100C622.2 100.7 623.9 101.1 625.3 102.3C626.7 103.5 627.9 105.7 628.2 107.4C628.6 109.1 627.5 111.7 627.4 112.5" stroke-width="2"/>
<path d="M627.4 112.5C626.5 113 623.6 113.7 622.3 115.5C621 117.3 620.3 120.2 619.8 123.6C619.2 127 618.5 131.8 619 135.9C619.5 140 621.3 144.4 622.5 148C623.7 151.6 626.2 154.6 626.2 157.2C626.2 159.8 624.3 162.3 622.3 163.3C620.3 164.3 616.9 164 614.2 163.3C611.5 162.7 608.9 160.4 606 159.4C603.1 158.4 600 158 597 157.6C594 157.2 590.9 157 587.7 157.2C584.5 157.3 580.7 157.8 578 158.5C575.3 159.2 572.8 160 571.4 161.3C570 162.6 570.9 165.2 569.4 166.4C567.9 167.6 563.3 169.1 562.3 168.4C561.3 167.7 563.1 163.3 563.3 162.3" stroke-width="2"/>
<path d="M563.3 162.3C562.4 161.6 559.2 159.4 558.2 158.2C557.2 157 556.8 156 557.5 155C558.2 154 561.6 155.3 562.3 152.1C563 148.9 562.1 141.7 561.8 135.9C561.5 130.1 560.5 120.6 560.3 117.5" stroke-width="2"/>
<path d="M560.3 117.5L553.1 112.5L554.5 110L559.2 106.4L556.2 100.3" stroke-width="2"/>
<path d="M559.2 106.4C559.9 106.7 562.5 107.5 563.5 108C564.5 108.5 565 109.3 565.3 109.6" stroke-width="1.7"/>
<path d="M565.2 98.3L563.4 110.1" stroke-width="1.7"/>
<path d="M560.3 117.5C560.8 116.8 562.7 114.3 563.5 113C564.3 111.7 562.5 110 565.3 109.6C568 109.1 574.2 110.1 580 110.3C585.8 110.5 594.2 110.5 600 110.8C605.8 111 610.4 111.5 615 111.8C619.6 112.1 625.3 112.4 627.4 112.5" stroke-width="1.7"/>
<path d="M575.5 110.6L622 112.6" stroke-width="3"/>
<path d="M563.4 110.1C563.9 111 565.4 112.5 566.1 115.5C566.9 118.5 567.5 123.1 567.9 128.2C568.3 133.3 568.6 141.2 568.8 146.3C568.9 151.4 568.8 156.9 568.8 159" stroke-width="1.8"/>
<path d="M569.7 119.2C570 121.6 571.5 129.5 571.6 133.7C571.8 137.9 570.8 142.7 570.6 144.5" stroke-width="1.4"/>
<path d="M570.6 114.6C571.2 114.8 573.1 115.1 574 115.6C574.9 116.1 575.8 117.4 576.1 117.8" stroke-width="1.4"/>
<path d="M577 140.9C576.7 142.4 576 147.6 575.2 150C574.5 152.4 573 154.5 572.5 155.4" stroke-width="1.4"/>
<path d="M587.7 157.2C589.8 156.4 596.3 152.6 600 152.5C603.7 152.4 607.3 155 610 156.5C612.7 158 615 160.7 616 161.5" stroke-width="1.4"/>
<path d="M571.4 161.3C572.5 160.3 575.4 156.8 578 155.5C580.6 154.2 585.5 153.8 587 153.5" stroke-width="1.4"/>
<path d="M563.3 162.3C563.8 162.6 565.5 163.1 566.5 163.8C567.5 164.5 568.9 166 569.4 166.4" stroke-width="1.5"/>
<ellipse cx="601.2" cy="132.8" rx="8.6" ry="11.4" stroke-width="1.8" transform="rotate(8 601.2 132.8)"/>
<ellipse cx="601.2" cy="132.8" rx="6.4" ry="8.8" stroke-width="1.8" transform="rotate(8 601.2 132.8)"/>
<ellipse cx="601.5" cy="133" rx="3.6" ry="4.8" stroke-width="2.7" transform="rotate(8 601.5 133)"/>
<ellipse cx="601.3" cy="133.2" rx="1.3" ry="1.8" stroke-width="1.5" transform="rotate(8 601.3 133.2)"/>
<path d="M554.5 129.5L560.5 129L560.8 134.5L555 135L554.5 129.5" stroke-width="2" fill="#000"/>
<ellipse cx="554.7" cy="132.2" rx="1.5" ry="2.6" stroke-width="1.8" fill="#000"/>
<path d="M82.4 316.8L218.6 238.4L214.4 231L78.2 309.4Z" stroke-width="2" fill="#fff"/>
<path d="M80.3 313.1L97.3 303.3" stroke-width="10.4" style="stroke-linecap:butt"/>
<path d="M201.5 243.3L216.5 234.7" stroke-width="10.8" style="stroke-linecap:butt"/>
<path d="M102.2 305.5L97.9 298" stroke-width="2"/>
<path d="M106.3 303.1L102 295.7" stroke-width="2"/>
<path d="M198.9 249.8L194.6 242.3" stroke-width="2.4"/>
<ellipse cx="81.6" cy="312.3" rx="2.6" ry="5" stroke-width="1.5" fill="#000" transform="rotate(-30 81.6 312.3)"/>
<path d="M214.9 229.5C215.1 227.9 215.6 226.7 216.7 226C217.8 225.3 219.8 225.1 221.2 225.2C222.6 225.3 224.3 225.9 225.3 226.8C226.3 227.7 227 229.1 227.2 230.4C227.3 231.7 226.8 233.2 226.2 234.5C225.6 235.8 224.7 237.2 223.9 238.1C223.1 238.9 222.1 239.6 221.2 239.6C220.3 239.6 219.4 239 218.5 238.3C217.6 237.6 216.1 237 215.5 235.5C214.9 234 214.7 231.1 214.9 229.5Z" stroke-width="1.8" fill="#000"/>
<ellipse cx="224.3" cy="229.6" rx="1.6" ry="3" stroke-width="0.2" fill="#fff" transform="rotate(-25 224.3 229.6)"/>
<path d="M206 237.5L207.3 240.5" stroke-width="1" stroke="#fff"/>
<path d="M211.5 233.8L212.5 236.5" stroke-width="1" stroke="#fff"/>
<path d="M113.1 370.3L145.9 352.3L142.9 346.9L110.1 364.9Z" stroke-width="2" fill="#fff"/>
<path d="M111.6 367.6L126.7 359.3" stroke-width="8.0" style="stroke-linecap:butt"/>
<ellipse cx="113.2" cy="367" rx="2" ry="3.5" stroke-width="1.5" fill="#000" transform="rotate(-28 113.2 367)"/>
<ellipse cx="113.6" cy="367.2" rx="0.9" ry="1.5" stroke-width="0.2" fill="#fff" transform="rotate(-28 113.6 367.2)"/>
<path d="M143.6 353.6L140.6 348.1" stroke-width="2.2"/>
<path d="M143.6 349.7L171.5 333.2" stroke-width="10.2" style="stroke-linecap:butt"/>
<path d="M150.5 346.2L171.5 333.8" stroke-width="0.8" stroke="#fff"/>
<path d="M149.5 349L171.5 336.6" stroke-width="0.8" stroke="#fff"/>
<path d="M144.8 347.4L146.6 351.1" stroke-width="0.8" stroke="#fff"/>
<path d="M166 331L175.7 320.1L177.3 326.1L179.5 336.4L180.5 339.5L176.8 343.4L168.5 340Z" stroke-width="1.5" fill="#000"/>
<path d="M175.7 320.1L182.7 316.3L187.6 318.5L192.5 327.2L193 331.5L184.3 337.5L179.5 336.4L177.3 326.1Z" stroke-width="2.1" fill="#fff"/>
<path d="M177.3 326.1L180 321.7L186.5 320.1L190.9 327.2L191.8 331.3" stroke-width="1.8"/>
<path d="M180 321.7L175.7 320.1" stroke-width="1.8"/>
<path d="M186.5 320.1L187.6 318.5" stroke-width="1.5"/>
<path d="M188.5 315.2L271.3 264.6" stroke-width="2.1"/>
<path d="M193.5 329.2L280 277.7" stroke-width="2.1"/>
<path d="M190.2 316.5C190.9 317.1 193.3 318.2 194.5 320C195.7 321.8 196.8 325.8 197.2 327" stroke-width="2"/>
<path d="M192.6 315C193.3 315.6 195.7 316.7 196.9 318.5C198.1 320.3 199.2 324.4 199.6 325.6" stroke-width="2"/>
<path d="M199.3 310.5C200.1 311.2 202.8 312.8 204.2 314.5C205.6 316.2 206.9 319.9 207.5 321" stroke-width="2"/>
<path d="M201.6 309.2C202.4 309.8 205 311.3 206.4 313C207.8 314.7 209.2 318.5 209.8 319.6" stroke-width="1.7"/>
<path d="M271.3 264.6C272 265.2 274.1 266.9 275.3 268.5C276.5 270.1 277.7 272.5 278.5 274C279.3 275.5 279.8 277.1 280 277.7" stroke-width="2"/>
<path d="M269.3 265.8C270 266.4 272.1 268.1 273.3 269.7C274.5 271.3 275.7 273.7 276.5 275.2C277.3 276.7 277.8 278.3 278 278.9" stroke-width="1.7"/>
<path d="M271.3 264.6C271.9 264.1 273.4 262.7 274.6 261.4C275.8 260.1 277.5 258.6 278.4 257C279.3 255.4 279.4 253.4 280 252.1C280.6 250.8 281.2 249.5 282.2 248.9C283.2 248.3 284.9 247.8 286 248.3C287.1 248.8 288.1 250.7 288.7 252.1C289.3 253.5 289.6 254.3 289.8 256.5C290 258.7 289.5 262.5 289.8 265.2C290.1 267.9 290.9 271 291.4 272.8C291.8 274.6 292.6 274.8 292.5 276C292.4 277.2 291.9 278.9 290.9 279.8C289.9 280.7 287.9 281.5 286.5 281.5C285.1 281.5 283.7 280.6 282.7 279.8C281.7 279 280.9 277.1 280.5 276.6" stroke-width="2.2"/>
<ellipse cx="282.3" cy="254.2" rx="1.5" ry="2.6" stroke-width="2.2" transform="rotate(10 282.3 254.2)"/>
<path d="M279 258.5C279.7 258.7 281.8 259.5 283 259.5C284.2 259.5 285.6 258 286 258.5C286.4 259 286.2 261.2 285.5 262.5C284.8 263.8 283 265.2 282 266.5C281 267.8 279.7 269 279.5 270.5C279.3 272 280.8 274.7 281 275.5" stroke-width="1.8"/>
<ellipse cx="281.8" cy="261.6" rx="2" ry="1" stroke-width="1.5" fill="#000" transform="rotate(-20 281.8 261.6)"/>
<path d="M283 277C283.4 276.6 284.6 274.7 285.5 274.5C286.4 274.3 288.1 275.2 288.5 276C288.9 276.8 288.1 278.9 288 279.5" stroke-width="1.8"/>
<path d="M288.2 249.5L296.8 245.9" stroke-width="3.2" style="stroke-linecap:butt"/>
<path d="M293 273.9L301.8 270.3" stroke-width="3.4" style="stroke-linecap:butt"/>
<path d="M306 241C306.7 240.1 309.6 237.3 311 236.2C312.4 235.1 315.3 233 316.3 232.4C317.3 231.8 318 231.8 318.6 231.8C319.2 231.8 319.5 230.9 320.7 232.4C321.9 233.9 325.7 240.2 327.5 243C329.3 245.8 333.1 251.8 334 253.5C334.9 255.2 334.6 255.4 334.6 256C334.6 256.6 334.7 257.1 334 257.9C333.3 258.7 330.4 261.1 329 262.2C327.6 263.3 324.7 265.4 323.7 266C322.7 266.6 322.3 266.6 321.8 266.6C321.3 266.6 321.1 267.5 320 266C318.9 264.5 315 258.3 313.2 255.6C311.4 252.9 307.8 247.1 306.8 245.4C305.8 243.7 305.9 243.6 305.8 243C305.7 242.4 305.3 241.9 306 241Z" stroke-width="2.2"/>
<path d="M306.8 245.4C307.1 245.6 307.9 246.6 308.6 246.6C309.3 246.6 309.7 246.2 311 245.2C312.3 244.2 315.6 241.4 316.5 240.6" stroke-width="1.4"/>
<path d="M309 241.5L321.5 262.5" stroke-width="1.4"/>
<ellipse cx="315.6" cy="240.3" rx="2.2" ry="2.5" stroke-width="2"/>
<ellipse cx="317" cy="251.3" rx="2.7" ry="4.1" stroke-width="2.2" transform="rotate(-22 317 251.3)"/>
<ellipse cx="325.9" cy="257.2" rx="2.5" ry="2.8" stroke-width="2.1"/>
<ellipse cx="309.7" cy="245.6" rx="1.2" ry="1.4" stroke-width="1.5"/>
<ellipse cx="320.2" cy="262.2" rx="1.1" ry="1.3" stroke-width="1.5"/>
<path d="M323.5 259.5C323.8 259.8 324.8 261.2 325.5 261.3C326.2 261.4 327.6 260.5 328 260.3" stroke-width="1.7"/>
<path d="M346.5 219.7L358.2 216" stroke-width="2.1"/>
<path d="M358.2 216C358.8 216.2 360.9 216.7 362 217.4C363.1 218.1 364.1 219.3 364.9 220.4C365.7 221.5 366.4 222.9 366.8 224C367.2 225.1 367.1 226.2 367 227.2C366.9 228.2 366.5 229.3 366 230.2C365.5 231.1 364.8 231.8 364.1 232.4C363.4 233 362.7 233.4 362 233.8C361.3 234.2 360.1 234.5 359.7 234.6" stroke-width="2.1"/>
<path d="M359.7 234.6L352.5 236.8" stroke-width="2.1"/>
<ellipse cx="348.9" cy="221.2" rx="1.7" ry="2.6" stroke-width="1.8" transform="rotate(-20 348.9 221.2)"/>
<path d="M350.5 218.6L356.5 217" stroke-width="3"/>
<path d="M334.7 224.1L339.1 222.4L343.5 224.7L347.9 227.8L351.6 236.6L359.7 238.1L359.7 241.8L353.8 242.6L345.7 241.8L343.5 238.1L336.2 228.5Z" stroke-width="2.4"/>
<path d="M339.1 222.4L340.5 226.8L344 230L346.5 238.5L351.6 240" stroke-width="1.5"/>
<ellipse cx="345.7" cy="232.3" rx="2.2" ry="3.2" stroke-width="3" transform="rotate(-15 345.7 232.3)"/>
<ellipse cx="339.2" cy="226.2" rx="0.8" ry="0.8" stroke-width="1.5" fill="#000"/>
<ellipse cx="355.6" cy="240" rx="0.9" ry="0.9" stroke-width="1.5" fill="#000"/>
<path d="M328.4 232.9L335.4 229.4" stroke-width="3.2" style="stroke-linecap:butt"/>
<path d="M345.2 244.8L353 241.3" stroke-width="3" style="stroke-linecap:butt"/>
<ellipse cx="328.6" cy="232.8" rx="1" ry="1.6" stroke-width="1.5" fill="#000" transform="rotate(-25 328.6 232.8)"/>
<ellipse cx="345.4" cy="244.7" rx="1" ry="1.5" stroke-width="1.5" fill="#000" transform="rotate(-25 345.4 244.7)"/>
<path d="M379.5 196.9C379.5 195.7 380 194.5 380.8 193.6C381.6 192.7 383.1 191.7 384.2 191.6C385.3 191.5 386.6 192.3 387.6 192.8C388.6 193.3 389.5 194.1 390.3 194.8C391.1 195.5 391.9 196 392.4 196.9C392.9 197.8 393.3 199.1 393.2 200.3C393.1 201.6 392.5 203.4 391.7 204.4C390.9 205.4 389.5 205.9 388.6 206.1C387.7 206.3 387.1 206.1 386.2 205.6C385.3 205.1 384.2 204.1 383.3 203.3C382.4 202.5 381.4 202.1 380.8 201C380.2 199.9 379.5 198.1 379.5 196.9Z" stroke-width="2.2"/>
<path d="M388.4 195.5C388 196.2 386.3 197.8 386 199.4C385.7 201 386.4 203.9 386.5 204.8" stroke-width="1.8"/>
<ellipse cx="389.4" cy="201.3" rx="2.9" ry="3.1" stroke-width="2"/>
<ellipse cx="389.6" cy="201.6" rx="1.2" ry="1.4" stroke-width="1.8"/>
<path d="M390.7 205.5C391 205.9 392.1 207 392.6 208C393.1 209 393.4 211 393.5 211.6L393.5 227L398.9 230.6" stroke-width="2"/>
<path d="M393.3 205C393.8 205.3 395.6 206.2 396.2 207C396.8 207.8 397 209.1 397.2 209.5L398 225L403.4 228" stroke-width="2"/>
<path d="M395.5 211.5L395.8 226" stroke-width="1.5"/>
<path d="M398.9 230.6C399 231.5 399.4 234.1 399.8 236C400.2 237.9 400.9 240.2 401.5 242C402.1 243.8 402.6 245.7 403.4 246.9C404.1 248.1 405.2 248.7 406 249C406.8 249.3 407.5 249.1 408 248.6C408.5 248.1 408.9 246.9 409 246C409.1 245.1 409.1 244.3 408.8 243C408.6 241.7 408.1 239.7 407.5 238C406.9 236.3 406.2 234.7 405.5 233C404.8 231.3 403.8 228.8 403.4 228" stroke-width="2.1"/>
<path d="M401.5 232.5C401.7 233.4 402.1 236.2 402.6 238C403.1 239.8 403.8 241.8 404.3 243C404.8 244.2 405.4 245.2 405.8 245.5C406.2 245.8 406.8 245.4 406.8 244.5C406.8 243.6 406.4 241.7 406 240C405.6 238.3 404.8 236 404.2 234.5C403.6 233 402.8 231.6 402.5 231" stroke-width="1.5"/>
<path d="M394.8 228.5L400.5 232" stroke-width="2.4"/>
<path d="M83.8 366.1C84.6 364.8 85.5 363.2 86.5 362C87.5 360.8 89 359.8 90.1 359C91.2 358.2 92.2 357.8 93.2 357.5C94.2 357.2 95.2 357 96.4 357.1C97.6 357.2 99 357.4 100.2 357.9C101.4 358.3 102.6 358.9 103.6 359.8C104.6 360.7 105.5 361.8 106.3 363C107.1 364.2 107.8 365.5 108.3 366.9C108.8 368.3 109.3 369.9 109.6 371.5C109.9 373.1 110 374.6 109.9 376.4C109.8 378.1 109.6 380.1 109.2 382C108.8 383.9 108.2 385.8 107.5 387.5C106.8 389.2 105.9 390.7 105 392C104.1 393.3 103 394.5 102 395.4C101 396.3 99.9 396.8 98.8 397.2C97.7 397.6 96.5 397.8 95.6 397.8C94.7 397.8 94 397.7 93.2 397.4C92.4 397.1 91.9 396.8 90.9 396.2C90 395.6 88.5 394.4 87.5 393.5C86.5 392.6 85.5 391.7 84.6 390.7C83.7 389.7 82.8 388.8 82 387.7C81.2 386.6 80.4 385.3 79.8 384.4C79.2 383.4 78.9 382.8 78.6 382C78.3 381.2 78.2 380.6 78.2 379.6C78.2 378.7 78.4 377.4 78.7 376.3C79 375.2 79.3 374.4 79.8 373.3C80.3 372.2 80.9 370.8 81.6 369.6C82.3 368.4 83 367.4 83.8 366.1Z" stroke-width="2.2"/>
<path d="M96.4 359C97.3 359.4 100.4 359.9 102 361.4C103.6 362.8 105.1 365.2 106 367.7C106.9 370.2 107.5 373.2 107.5 376.4C107.5 379.6 107.2 383.8 106 386.7C104.8 389.6 102.1 392.4 100.4 393.9C98.7 395.4 96.4 395.5 95.6 395.8" stroke-width="1.7"/>
<path d="M83.8 368.5C84.7 368.4 87.4 367.7 89 368C90.6 368.3 92 369 93.3 370.1C94.5 371.2 95.7 373.2 96.5 374.5C97.3 375.8 97.7 376.6 98 378C98.3 379.4 98.2 381.4 98.2 383C98.2 384.6 98.3 385.9 98 387.5C97.7 389.1 96.9 391.2 96.5 392.5C96.1 393.8 95.8 395 95.6 395.5" stroke-width="1.8"/>
<path d="M82.2 371.2C82.9 371.2 85.1 370.8 86.5 371.2C87.9 371.6 89.3 372.4 90.5 373.5C91.7 374.6 92.9 376.3 93.5 378C94.1 379.7 94.3 381.6 94.3 383.5C94.3 385.4 94 387.8 93.5 389.5C93 391.2 91.8 393.2 91.5 394" stroke-width="1.8"/>
<path d="M80.6 374.2C81.2 374.2 83.3 373.9 84.5 374.2C85.7 374.5 87 375.1 88 376C89 376.9 90 378.4 90.6 379.8C91.2 381.2 91.4 382.9 91.4 384.5C91.4 386.1 91.3 387.9 90.8 389.2C90.3 390.5 88.9 391.9 88.5 392.5" stroke-width="1.7"/>
<ellipse cx="84.6" cy="384.8" rx="4.6" ry="5" stroke-width="2.1"/>
<ellipse cx="85" cy="385.2" rx="2.2" ry="2.5" stroke-width="2.4"/>
<path d="M11.9 412.3L18.2 406L26 405.3L30.2 401L36.5 399.6L41.4 401L41.4 394L47.7 389.8L56.1 393.3L61.7 399.6L61.7 406.7L51.9 414.4L47.7 422.1L39.3 426.3L23.9 432.6L15.4 427.7L12.6 419.3Z" stroke-width="2.5" fill="#fff"/>
<path d="M41.4 394L47.5 397.3L53.5 393" stroke-width="2"/>
<path d="M47.5 397.3L48 404.5L41.4 401" stroke-width="2"/>
<path d="M48 404.5L54.5 408.5L54.5 398.5L61.7 399.6" stroke-width="2.1"/>
<path d="M44.5 392L50.5 395.3" stroke-width="1.8"/>
<ellipse cx="57.2" cy="402.5" rx="1.4" ry="2.2" stroke-width="2.1"/>
<path d="M27.5 406.5C27.2 405.2 28.8 403.4 30 402.5C31.2 401.6 33.3 400.8 35 400.8C36.7 400.8 38.9 401.6 40 402.5C41.1 403.4 41.8 404.8 41.5 406C41.2 407.2 39.6 408.8 38 409.5C36.4 410.2 33.8 411 32 410.5C30.2 410 27.8 407.8 27.5 406.5Z" stroke-width="3.6"/>
<ellipse cx="34.5" cy="405.6" rx="2.6" ry="2" stroke-width="2.7" fill="#000"/>
<path d="M26.5 409.5C27.4 410.1 30 412.6 32 413C34 413.4 36.6 412.8 38.5 412C40.4 411.2 41.6 408.8 43.5 408C45.4 407.2 48.9 407.6 50 407.5" stroke-width="3.3"/>
<path d="M20 416.5C21.2 416.7 24.7 417.6 27 417.5C29.3 417.4 31.6 416.8 34 416C36.4 415.2 39.2 413.6 41.5 413C43.8 412.4 46.5 412.6 47.5 412.5" stroke-width="2.4"/>
<ellipse cx="43.2" cy="418.3" rx="4" ry="4.2" stroke-width="2.7"/>
<ellipse cx="43.6" cy="418.5" rx="1.8" ry="2" stroke-width="2.4" fill="#000"/>
<path d="M18.2 406L21.5 411.5L26 405.3" stroke-width="2"/>
<path d="M21.5 411.5L20 417.5L12.6 419.3" stroke-width="2.1"/>
<path d="M20 417.5L25.5 421.5L24.5 432" stroke-width="2.2"/>
<path d="M25.5 421.5L36 418L37.5 426.5" stroke-width="2.1"/>
<ellipse cx="19" cy="425.5" rx="2.2" ry="2.8" stroke-width="3"/>
<ellipse cx="24" cy="413.5" rx="1.2" ry="1.2" stroke-width="1.8" fill="#000"/>
<ellipse cx="16.5" cy="413" rx="1" ry="1" stroke-width="1.5" fill="#000"/>
<path d="M362.9 277.5L371.5 272.7L382.1 272.7L390.8 279.4L394.6 284.2L393.7 304.4L387.9 309.2L384 311.2L369.6 305.4L365.8 298.7Z" stroke-width="2.4"/>
<path d="M362.9 277.5L367.5 281L373.5 276.6L371.5 272.7" stroke-width="1.7"/>
<path d="M373.5 276.6L379 276.3L382.1 272.7" stroke-width="1.7"/>
<path d="M379 276.3L385 281L390.8 279.4" stroke-width="1.7"/>
<path d="M385 281L388.8 285.3L394.6 284.2" stroke-width="1.7"/>
<path d="M388.8 285.3L387.9 309.2" stroke-width="2"/>
<path d="M385 281L384.4 290.5" stroke-width="1.7"/>
<path d="M367.5 281L367.2 287" stroke-width="1.5"/>
<path d="M391.5 287L391 305" stroke-width="1.4"/>
<ellipse cx="375.4" cy="295.8" rx="8.2" ry="10.5" stroke-width="2.7" transform="rotate(-12 375.4 295.8)"/>
<ellipse cx="376.4" cy="296.6" rx="3.8" ry="5.8" stroke-width="3.2" transform="rotate(-15 376.4 296.6)"/>
<path d="M367.2 287C367.4 286.4 367.7 284.4 368.5 283.5C369.3 282.6 370.6 281.8 372 281.5C373.4 281.2 376.2 281.5 377 281.5" stroke-width="1.5"/>
<path d="M368.3 298C368.7 299.1 369.3 302.5 370.5 304.3C371.7 306.1 373.8 308.1 375.5 308.6C377.2 309.2 380.1 307.8 381 307.6" stroke-width="1.5"/>
<path d="M319.6 308.3L324.4 304.4L335 305.4L338.8 300.6L348.5 298.7L361.9 294.8" stroke-width="2.2"/>
<path d="M319.6 308.3L321.5 312.1L325.4 314L325.4 328.5L333.1 337.1L340.8 336.2L344.6 336.2" stroke-width="2.4"/>
<path d="M325.4 314L338.8 316L344.6 321.7L351.3 318.8L356.5 316.6L367.7 316L373.5 320.8" stroke-width="2.1"/>
<path d="M369.6 305.4L367.7 316" stroke-width="1.8"/>
<path d="M338.8 300.6L346.5 307.5L351.3 318.8" stroke-width="1.5"/>
<path d="M324.4 304.4L326.8 308L338 309L346.5 313.5L351.3 318.8" stroke-width="1.7"/>
<path d="M329.2 316.5L329.2 326.5L335 332.3L339 331.6" stroke-width="1.7"/>
<path d="M344.6 321.7L344.6 336.2" stroke-width="2.1"/>
<path d="M338.8 316L339.6 331" stroke-width="1.5"/>
<path d="M337.5 303C337.5 302.2 338.9 301.2 340 300.8C341.1 300.4 342.9 300.3 344 300.6C345.1 300.9 346.2 301.9 346.3 302.6C346.4 303.3 345.4 304.5 344.3 305C343.2 305.5 340.9 305.7 339.8 305.4C338.7 305.1 337.5 303.8 337.5 303Z" stroke-width="2"/>
<path d="M340 303.2L344 302.8" stroke-width="1.5"/>
<ellipse cx="322.2" cy="308.2" rx="1.1" ry="1.1" stroke-width="1.5" fill="#000"/>
<path d="M331 333L337 330.5" stroke-width="2.7"/>
<path d="M344.6 336.2L345.6 343.8L350.4 347.7L351.3 340" stroke-width="2.4"/>
<path d="M347.8 338L348.2 345.2" stroke-width="1.8"/>
<path d="M373.5 320.8L374.4 337.1L371.5 340" stroke-width="2.2"/>
<path d="M351.3 318.8L351.8 331.5" stroke-width="2"/>
<path d="M356.2 319.5L356.6 330" stroke-width="1.8"/>
<path d="M361.2 319.5L361.6 329.5" stroke-width="1.7"/>
<path d="M366.3 317L367 331" stroke-width="1.8"/>
<path d="M356.2 321.5C356.6 321.2 357.9 319.6 358.8 319.5C359.7 319.4 360.9 320.9 361.3 321.2" stroke-width="1.7"/>
<path d="M353 317.8L357.5 319L364.5 315.5" stroke-width="1.5"/>
<path d="M367 324.5L370.5 323.5" stroke-width="1.5"/>
<ellipse cx="360.1" cy="337.2" rx="7.9" ry="5.5" stroke-width="2.4" transform="rotate(-8 360.1 337.2)"/>
<ellipse cx="360.3" cy="337.5" rx="5" ry="3.3" stroke-width="3.4" transform="rotate(-8 360.3 337.5)"/>
<ellipse cx="360.5" cy="337.8" rx="2" ry="1.2" stroke-width="1.8" fill="#000" transform="rotate(-8 360.5 337.8)"/>
<path d="M352.3 338.5C352.5 339.3 352.4 342.2 353.5 343.5C354.6 344.8 357 346.1 359 346.3C361 346.6 364 346 365.5 345C367 344 367.8 341.2 368.2 340.5" stroke-width="2"/>
</g>
</svg>
</body></html>
